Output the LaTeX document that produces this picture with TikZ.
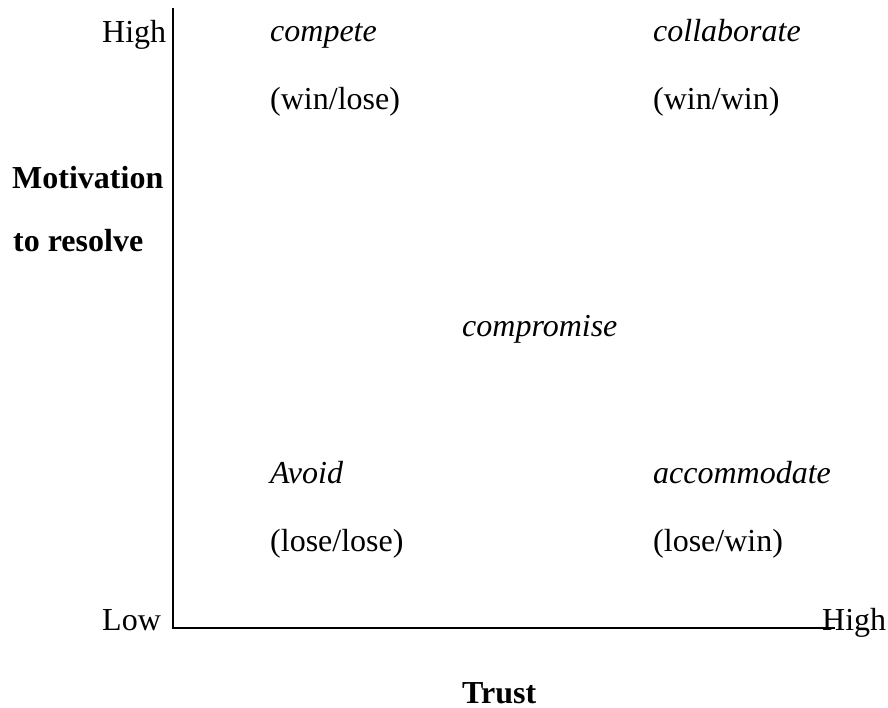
\documentclass[tikz,border=0pt]{standalone}
\usepackage{fontspec}
\setmainfont{Liberation Serif}
\usepackage{tikz}
\usetikzlibrary{positioning}

\tikzset{
	txt/.style={anchor=base west, inner sep=0pt, font=\fontsize{32}{38}\selectfont},
	mode/.style={txt, font=\fontsize{32}{38}\selectfont\itshape},
	axlabel/.style={txt, font=\fontsize{32}{38}\selectfont\bfseries},
	axis/.style={draw=black, line width=1.6pt}
}

\begin{document}
\begin{tikzpicture}[x=1pt,y=-1pt]
	\useasboundingbox (0,0) rectangle (888,708);
	% axes
	\coordinate (top) at (173,8);
	\coordinate (origin) at (173,628);
	\coordinate (right) at (835,628);
	\draw[axis] (top) -- (origin) -- (right);
	% tick labels
	\node[txt] (yhigh) at (102,43) {High};
	\node[txt] (ylow) at (102,630) {Low};
	\node[txt] (xhigh) at (822,630) {High};
	\node[axlabel] (ylab1) at (12,189) {Motivation};
	\node[axlabel] (ylab2) at (13,252) {to resolve};
	\node[axlabel] (xlab) at (462,703) {Trust};
	% the five modes
	\foreach \n/\x/\y/\m/\o in {compete/270/42/compete/{(win/lose)},
		collab/653/42/collaborate/{(win/win)},
		avoid/270/483/Avoid/{(lose/lose)},
		accom/653/483/accommodate/{(lose/win)}}
	{
		\node[mode] (\n) at (\x,\y) {\m};
		\node[txt] (\n-o) at (\x,\y+68) {\o};
	}
	\node[mode] (compromise) at (462,336) {compromise};
\end{tikzpicture}
\end{document}
